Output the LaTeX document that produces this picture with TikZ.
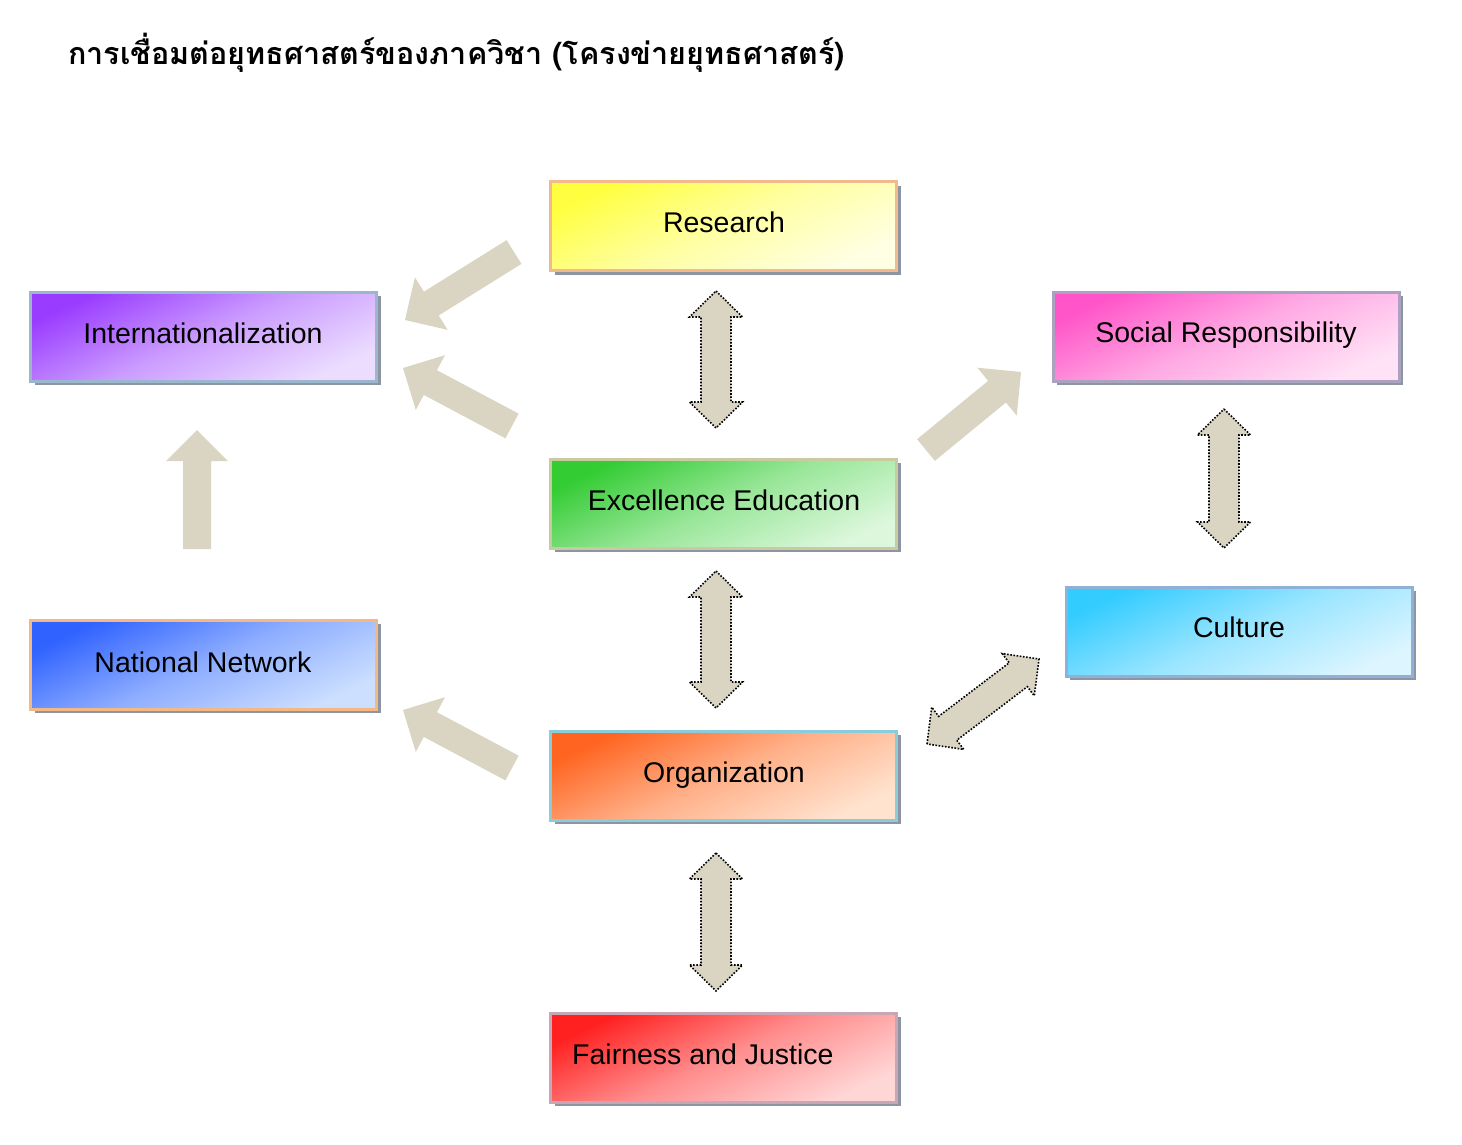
\documentclass[tikz,border=0pt]{standalone}
\usepackage{fontspec}
\setmainfont{Liberation Sans}
\newfontfamily\thaifont[Script=Thai]{Loma}
\usetikzlibrary{calc,shadows}
\definecolor{arrowfill}{HTML}{DAD5C3}
\definecolor{shadowgrey}{HTML}{8E95A2}
\definecolor{resD}{HTML}{FFFF40}\definecolor{resL}{HTML}{FFFFE4}\definecolor{resB}{HTML}{F2B98C}
\definecolor{intD}{HTML}{9A3CFF}\definecolor{intL}{HTML}{ECDDFF}\definecolor{intB}{HTML}{9DB6CF}
\definecolor{socD}{HTML}{FF55C8}\definecolor{socL}{HTML}{FFE2F6}\definecolor{socB}{HTML}{AAA2BE}
\definecolor{excD}{HTML}{33CC33}\definecolor{excL}{HTML}{DCF7DC}\definecolor{excB}{HTML}{C9C9A2}
\definecolor{natD}{HTML}{2F62FF}\definecolor{natL}{HTML}{CCDFFF}\definecolor{natB}{HTML}{F4B884}
\definecolor{culD}{HTML}{33CCFF}\definecolor{culL}{HTML}{DCF5FF}\definecolor{culB}{HTML}{8FB1D8}
\definecolor{orgD}{HTML}{FF6420}\definecolor{orgL}{HTML}{FFE3CF}\definecolor{orgB}{HTML}{8ACCDC}
\definecolor{faiD}{HTML}{FF2020}\definecolor{faiL}{HTML}{FFD6D6}\definecolor{faiB}{HTML}{C8A6B6}
\tikzset{
  boxbase/.style={line width=3pt, minimum width=346pt, minimum height=89pt, inner sep=0pt,
    general shadow={fill=shadowgrey, shadow xshift=4pt, shadow yshift=-4pt}},
  grad/.style={boxbase, draw=#1B, top color=#1D, bottom color=#1L, middle color=#1D!40!#1L, shading angle=25},
  lbl/.style={font=\fontsize{28.5}{32}\selectfont, inner sep=0pt, anchor=base},
  dblarrow/.style={fill=arrowfill, draw=black, line width=1.6pt, dash pattern=on 1.6pt off 1.6pt, line join=miter},
}
\newcommand\onearrow[2]{%
  \coordinate (tmpH) at ($(#2)!31pt!(#1)$);
  \fill[arrowfill] ($(#1)!14pt!90:(#2)$) -- ($(tmpH)!14pt!90:(#2)$) -- ($(tmpH)!31pt!90:(#2)$) -- (#2)
    -- ($(tmpH)!31pt!-90:(#2)$) -- ($(tmpH)!14pt!-90:(#2)$) -- ($(#1)!14pt!-90:(#2)$) -- cycle;}
\newcommand\twoarrow[2]{%
  \coordinate (tmpA) at ($(#1)!26pt!(#2)$);
  \coordinate (tmpB) at ($(#2)!26pt!(#1)$);
  \draw[dblarrow] (#1) -- ($(tmpA)!26.5pt!90:(#2)$) -- ($(tmpA)!15pt!90:(#2)$) -- ($(tmpB)!15pt!90:(#2)$)
    -- ($(tmpB)!26.5pt!90:(#2)$) -- (#2) -- ($(tmpB)!26.5pt!-90:(#2)$) -- ($(tmpB)!15pt!-90:(#2)$)
    -- ($(tmpA)!15pt!-90:(#2)$) -- ($(tmpA)!26.5pt!-90:(#2)$) -- cycle;}
\begin{document}
\begin{tikzpicture}[x=1pt,y=-1pt]
\useasboundingbox[fill=white] (0,0) rectangle (1462,1145);
% title
\node[anchor=west, inner sep=0pt, font=\thaifont\bfseries\fontsize{30.5}{36}\selectfont] (title) at (68,53)
  {การเชื่อมต่อยุทธศาสตร์ของภาควิชา (โครงข่ายยุทธศาสตร์)};
% boxes
\node[grad=res] (res) at (723.5,226) {};
\node[grad=int] (int) at (203.5,336.5) {};
\node[grad=soc] (soc) at (1226,336.5) {};
\node[grad=exc] (exc) at (723.5,503.5) {};
\node[grad=nat] (nat) at (203.5,664.5) {};
\node[grad=cul] (cul) at (1239,631.5) {};
\node[grad=org] (org) at (723.5,775.5) {};
\node[grad=fai] (fai) at (723.5,1057.5) {};
% labels
\node[lbl] (resT) at (724,232) {Research};
\node[lbl] (intT) at (203,343) {Internationalization};
\node[lbl] (socT) at (1226,342) {Social Responsibility};
\node[lbl] (excT) at (724,510) {Excellence Education};
\node[lbl] (natT) at (203,672) {National Network};
\node[lbl] (culT) at (1239,637) {Culture};
\node[lbl] (orgT) at (724,782) {Organization};
\node[lbl, anchor=base west] (faiT) at (572,1064) {Fairness and Justice};
% arrow end points
\coordinate (a1s) at (514,252);  \coordinate (a1e) at (405,320);
\coordinate (a2s) at (512,426);  \coordinate (a2e) at (403,368);
\coordinate (a3s) at (926,450);  \coordinate (a3e) at (1021,372);
\coordinate (a4s) at (197,549);  \coordinate (a4e) at (197,430);
\coordinate (a5s) at (512,768);  \coordinate (a5e) at (403,710);
\coordinate (d1s) at (716,291);  \coordinate (d1e) at (716,428);
\coordinate (d2s) at (716,571);  \coordinate (d2e) at (716,708);
\coordinate (d3s) at (716,853);  \coordinate (d3e) at (716,991);
\coordinate (d4s) at (1224,409); \coordinate (d4e) at (1224,548);
\coordinate (d5s) at (927,744);  \coordinate (d5e) at (1039,659);
% one-way arrows
\onearrow{a1s}{a1e}
\onearrow{a2s}{a2e}
\onearrow{a3s}{a3e}
\onearrow{a4s}{a4e}
\onearrow{a5s}{a5e}
% two-way arrows
\twoarrow{d1s}{d1e}
\twoarrow{d2s}{d2e}
\twoarrow{d3s}{d3e}
\twoarrow{d4s}{d4e}
\twoarrow{d5s}{d5e}
\end{tikzpicture}
\end{document}
